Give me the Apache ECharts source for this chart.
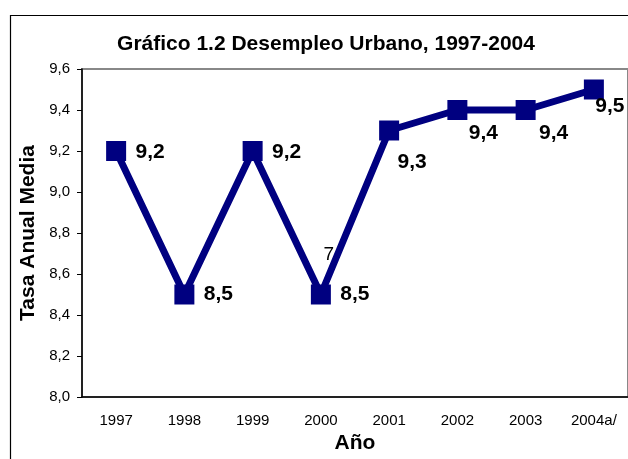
<!DOCTYPE html>
<html>
<head>
<meta charset="utf-8">
<script src="https://cdn.jsdelivr.net/npm/echarts@6/dist/echarts.min.js"></script>
<style>
  html, body { margin: 0; padding: 0; background: #fff; }
  #chart { width: 628px; height: 459px; }
</style>
</head>
<body>
<div id="chart"></div>
<script>
// datos
var years = ['1997', '1998', '1999', '2000', '2001', '2002', '2003', '2004a/']
var tasa = [9.2, 8.5, 9.2, 8.5, 9.3, 9.4, 9.4, 9.5]
var yMin = 8.0
var yMax = 9.6
var yStep = 0.2
var strayNote = '7'  // texto suelto que aparece sobre el punto del 2000

// desplazamiento de cada etiqueta respecto al centro del punto
var labelShift = [[34, 1], [34, 0], [34, 1], [34, 0], [23, 32], [26, 23], [28, 23], [16, 17]]

var font = '"Liberation Sans", Arial, sans-serif'
var coma = function (v) { return v.toFixed(1).replace('.', ',') }

var chart = echarts.init(document.getElementById('chart'))

var seriesData = tasa.map(function (v, i) {
  return {
    value: v,
    label: { offset: labelShift[i] }
  }
})

chart.setOption({
  animation: false,
  backgroundColor: '#fff',
  textStyle: { fontFamily: font },
  title: {
    text: 'Gráfico 1.2 Desempleo Urbano, 1997-2004',
    left: 321,
    textAlign: 'center',
    top: 29,
    textStyle: { fontFamily: font, fontSize: 21, fontWeight: 'bold', color: '#000' }
  },
  graphic: [{
    type: 'rect',
    left: 8,
    top: 13,
    shape: { width: 640, height: 470 },
    style: { fill: 'none', stroke: '#000', lineWidth: 1.2 }
  }],
  grid: {
    left: 82,
    top: 69,
    width: 552,
    height: 328,
    show: true,
    borderColor: '#888',
    borderWidth: 2
  },
  xAxis: {
    type: 'category',
    data: years,
    boundaryGap: true,
    name: 'Año',
    nameLocation: 'middle',
    nameGap: 31,
    nameTextStyle: { fontFamily: font, fontSize: 21, fontWeight: 'bold', color: '#000' },
    axisLine: { lineStyle: { color: '#000', width: 1.5 } },
    axisTick: { length: 5, lineStyle: { color: '#000' } },
    axisLabel: { fontFamily: font, fontSize: 15, color: '#000', margin: 16 },
    splitLine: { show: false }
  },
  yAxis: {
    type: 'value',
    min: yMin,
    max: yMax,
    interval: yStep,
    name: 'Tasa Anual Media',
    nameLocation: 'middle',
    nameGap: 42,
    nameTextStyle: { fontFamily: font, fontSize: 21, fontWeight: 'bold', color: '#000' },
    axisLine: { show: true, lineStyle: { color: '#000', width: 1.5 } },
    axisTick: { show: true, length: 5, lineStyle: { color: '#000' } },
    axisLabel: { fontFamily: font, fontSize: 15, color: '#000', margin: 12, formatter: coma },
    splitLine: { show: false }
  },
  series: [{
    type: 'line',
    data: seriesData,
    symbol: 'rect',
    symbolSize: 20,
    color: '#000080',
    lineStyle: { color: '#000080', width: 7 },
    itemStyle: { color: '#000080' },
    label: {
      show: true,
      position: 'inside',
      align: 'center',
      verticalAlign: 'middle',
      fontFamily: font,
      fontSize: 21,
      fontWeight: 'bold',
      color: '#000',
      formatter: function (p) { return coma(p.value) }
    },
    markPoint: {
      symbol: 'circle',
      symbolSize: 0,
      data: [{ coord: ['2000', tasa[3]], value: strayNote }],
      label: {
        show: true,
        position: 'inside',
        offset: [8, -40],
        formatter: strayNote,
        fontFamily: font,
        fontSize: 19,
        color: '#000'
      }
    }
  }]
})
</script>
</body>
</html>
